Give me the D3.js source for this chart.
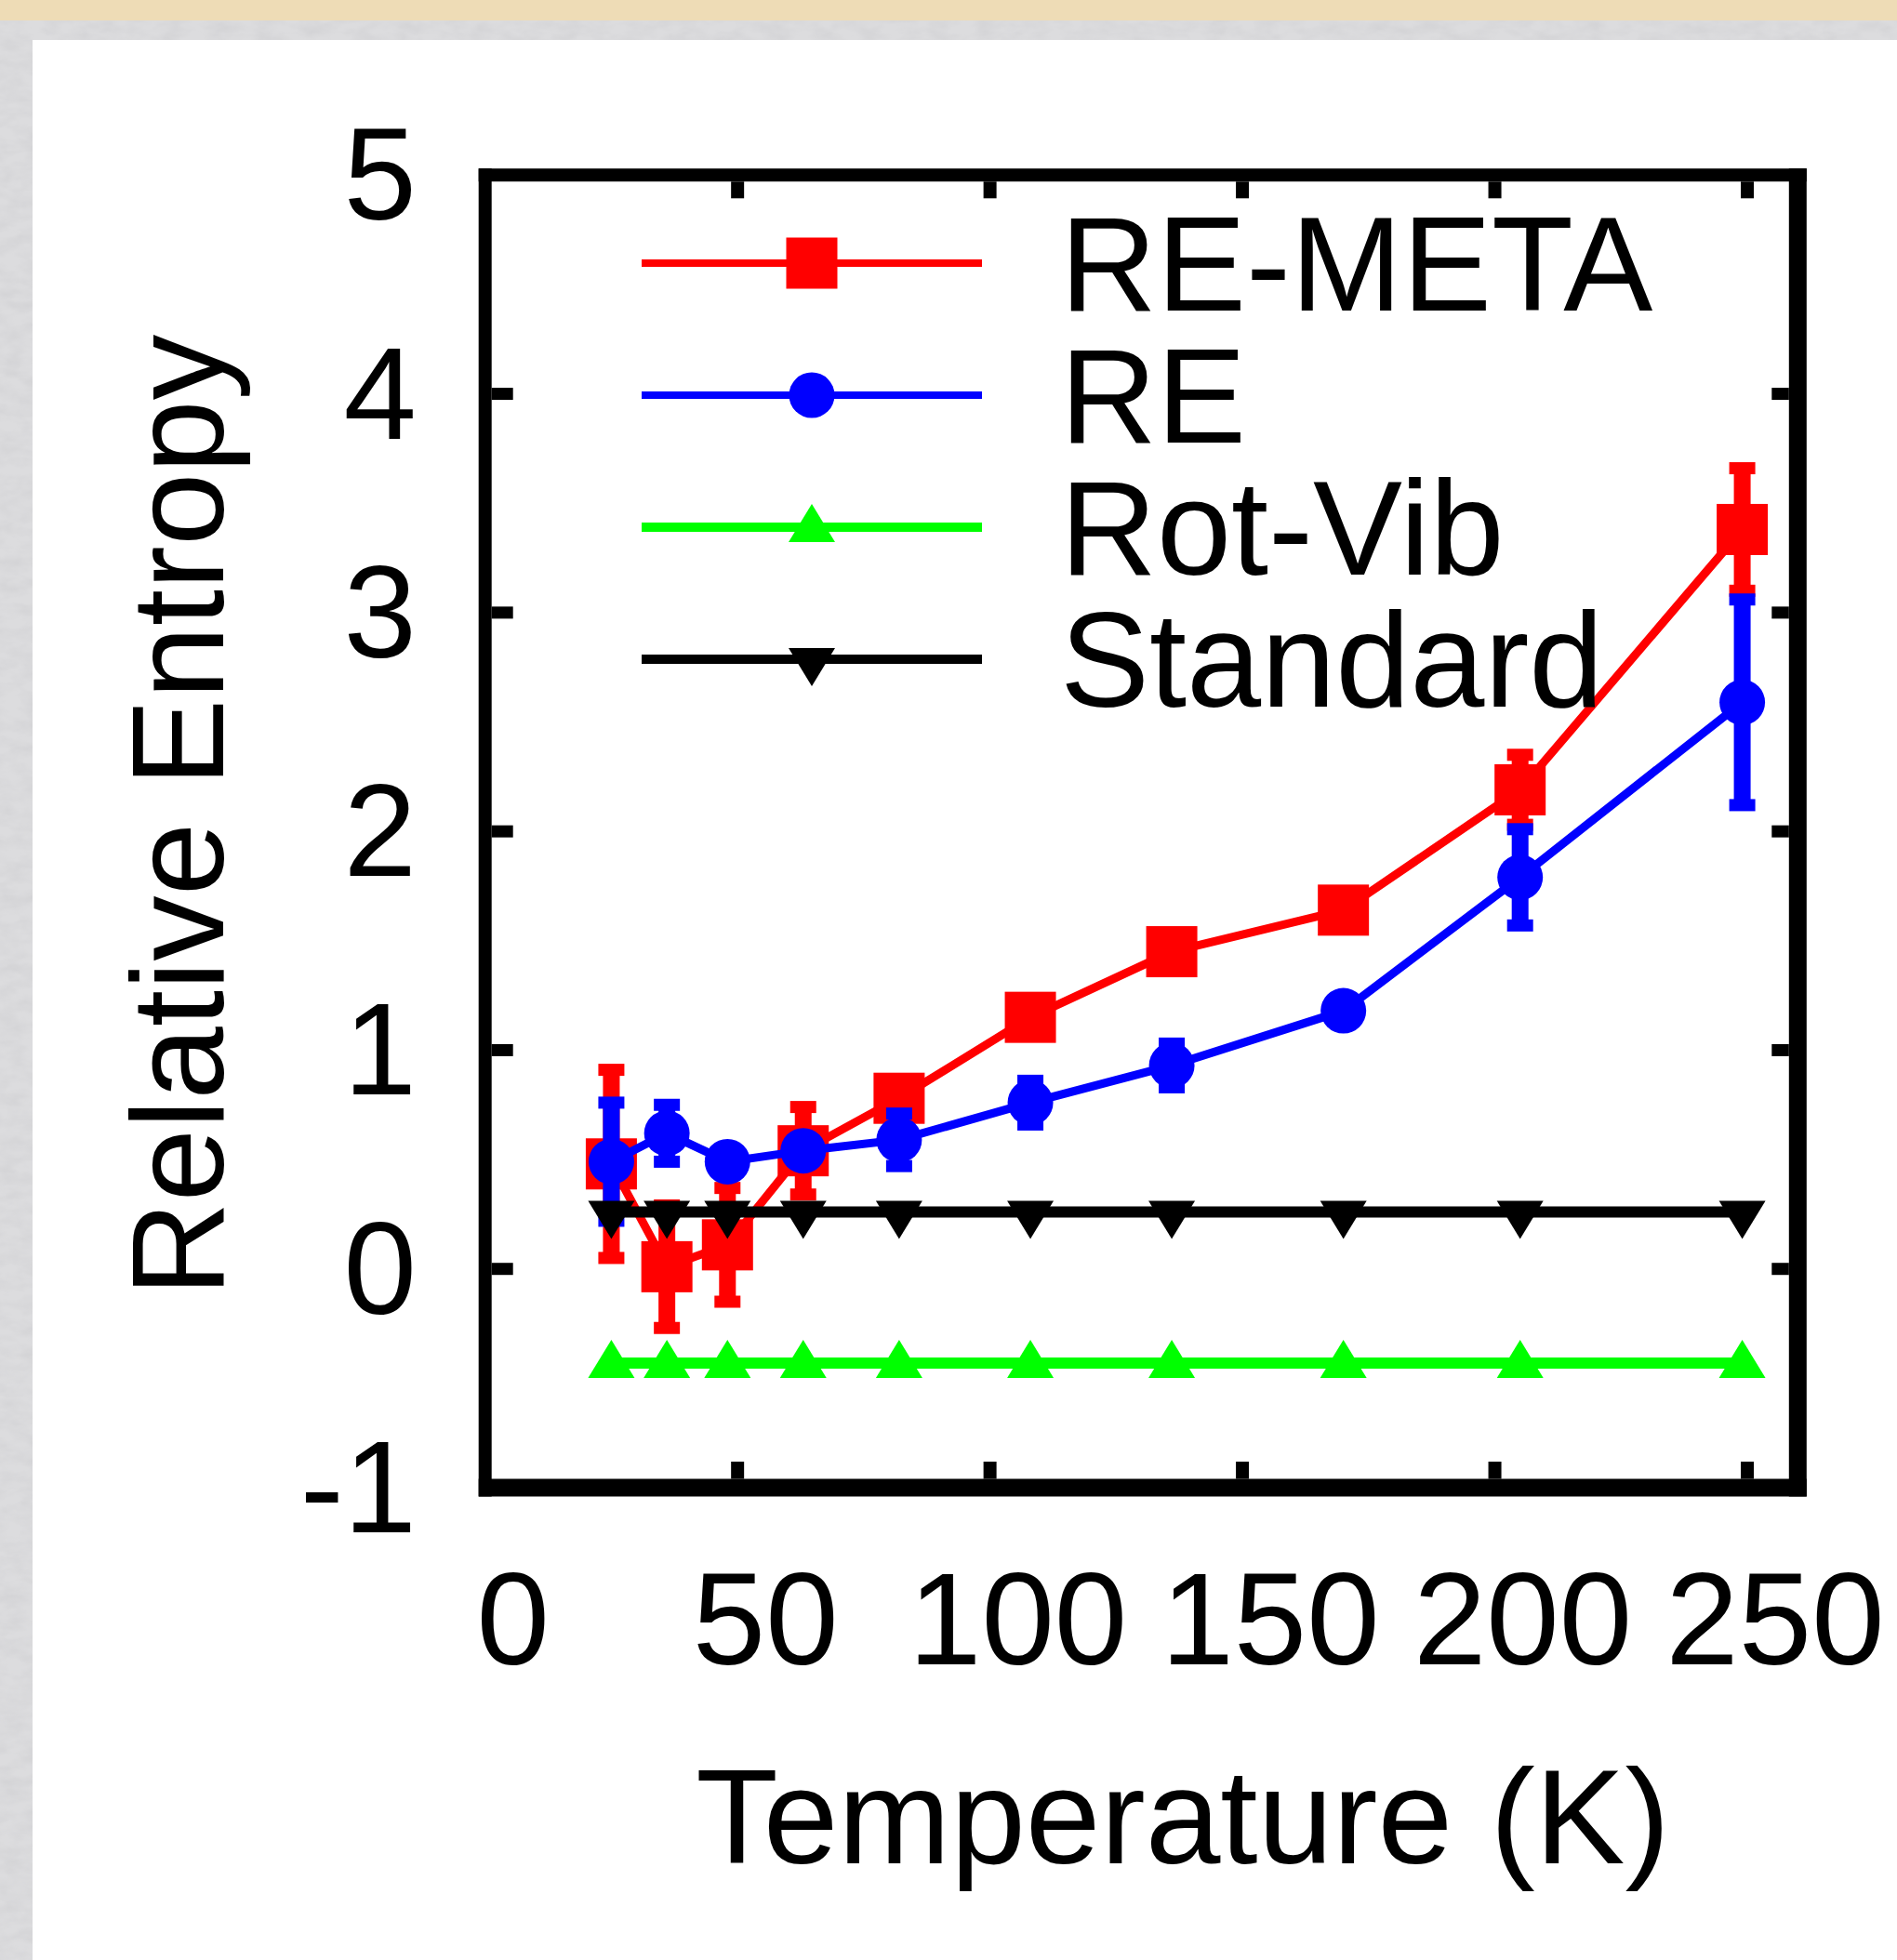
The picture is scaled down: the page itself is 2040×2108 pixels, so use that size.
<!DOCTYPE html>
<html>
<head>
<meta charset="utf-8">
<script src="https://cdn.jsdelivr.net/npm/d3@7"></script>
<style>
  html, body { margin: 0; padding: 0; background: #fff; }
  svg { display: block; }
  text { font-family: "Liberation Sans", Arial, sans-serif; fill: #000; }
</style>
</head>
<body>
<div id="chart"></div>
<script>
var temps = [25, 36, 48, 63, 82, 108, 136, 170, 205, 249];
var reMeta = [0.48, 0.01, 0.11, 0.54, 0.78, 1.15, 1.45, 1.64, 2.19, 3.38];
var reMetaErr = [0.43, 0.28, 0.26, 0.20, 0.06, 0.05, 0.05, 0.05, 0.16, 0.28];
var re = [0.49, 0.62, 0.49, 0.54, 0.59, 0.76, 0.93, 1.18, 1.79, 2.59];
var reErr = [0.27, 0.13, 0.05, 0.05, 0.12, 0.10, 0.10, 0.05, 0.22, 0.47];
var rotVib = [-0.43, -0.43, -0.43, -0.43, -0.43, -0.43, -0.43, -0.43, -0.43, -0.43];
var standard = [0.26, 0.26, 0.26, 0.26, 0.26, 0.26, 0.26, 0.26, 0.26, 0.26];
var xTicks = [0, 50, 100, 150, 200, 250];
var yTicks = [-1, 0, 1, 2, 3, 4, 5];
var seriesNames = ["RE-META", "RE", "Rot-Vib", "Standard"];

(function() {
  var width = 2040,
      height = 2108;

  var svg = d3.select("#chart")
    .append("svg")
    .attr("width", width)
    .attr("height", height);

  // page background: beige strip, grey strip, white panel
  var defs = svg.append("defs");
  var marble = defs.append("filter").attr("id", "marble");
  marble.append("feTurbulence").attr("type", "fractalNoise").attr("baseFrequency", "0.04 0.08").attr("numOctaves", 3).attr("seed", 4);
  marble.append("feColorMatrix").attr("type", "matrix")
    .attr("values", "0 0 0 0 0.6  0 0 0 0 0.6  0 0 0 0 0.62  0 0 0 0.9 -0.3");
  marble.append("feComposite").attr("in2", "SourceGraphic").attr("operator", "in");

  svg.append("rect").attr("x", 0).attr("y", 0).attr("width", width).attr("height", height).attr("fill", "#dcdcde");
  svg.append("rect").attr("x", 0).attr("y", 0).attr("width", width).attr("height", height).attr("fill", "#dcdcde").attr("filter", "url(#marble)");
  svg.append("rect").attr("x", 0).attr("y", 0).attr("width", width).attr("height", 22).attr("fill", "#eedcb6");
  svg.append("rect").attr("x", 35).attr("y", 43).attr("width", width - 35).attr("height", height - 43).attr("fill", "#fff");

  var x = d3.scaleLinear().domain([0, 260]).range([521.7, 1933.3]);
  var y = d3.scaleLinear().domain([-1, 5]).range([1600, 188.3]);

  var series = [
    { name: seriesNames[0], values: reMeta, err: reMetaErr, color: "#ff0000", lw: 9, marker: "square" },
    { name: seriesNames[1], values: re, err: reErr, color: "#0000ff", lw: 9, marker: "circle" },
    { name: seriesNames[2], values: rotVib, err: null, color: "#00ff00", lw: 12, marker: "up" },
    { name: seriesNames[3], values: standard, err: null, color: "#000000", lw: 12, marker: "down" }
  ];

  function drawMarker(g, type, cx, cy, color) {
    if (type === "square") {
      g.append("rect").attr("x", cx - 27.5).attr("y", cy - 27.5)
        .attr("width", 55).attr("height", 55).attr("fill", color);
    } else if (type === "circle") {
      g.append("circle").attr("cx", cx).attr("cy", cy).attr("r", 24.5).attr("fill", color);
    } else if (type === "up") {
      g.append("path").attr("d", "M" + (cx - 25) + "," + (cy + 16) + "L" + cx + "," + (cy - 25) + "L" + (cx + 25) + "," + (cy + 16) + "Z")
        .attr("fill", color);
    } else {
      g.append("path").attr("d", "M" + (cx - 25) + "," + (cy - 12) + "L" + cx + "," + (cy + 29) + "L" + (cx + 25) + "," + (cy - 12) + "Z")
        .attr("fill", color);
    }
  }

  var plot = svg.append("g");
  var line = d3.line().x(function(d) { return x(d[0]); }).y(function(d) { return y(d[1]); });

  series.forEach(function(s) {
    var pts = temps.map(function(t, i) { return [t, s.values[i], s.err ? s.err[i] : 0]; });
    var g = plot.append("g");
    g.append("path").attr("d", line(pts)).attr("fill", "none")
      .attr("stroke", s.color).attr("stroke-width", s.lw);
    if (s.err) {
      pts.forEach(function(p) {
        var top = y(p[1] + p[2]), bot = y(p[1] - p[2]);
        g.append("rect").attr("x", x(p[0]) - 9).attr("y", top).attr("width", 18).attr("height", bot - top).attr("fill", s.color);
        g.append("rect").attr("x", x(p[0]) - 14).attr("y", top - 6.5).attr("width", 28).attr("height", 13).attr("fill", s.color);
        g.append("rect").attr("x", x(p[0]) - 14).attr("y", bot - 6.5).attr("width", 28).attr("height", 13).attr("fill", s.color);
      });
    }
    pts.forEach(function(p) { drawMarker(g, s.marker, x(p[0]), y(p[1]), s.color); });
  });

  // frame
  var fx0 = x.range()[0], fx1 = x.range()[1], fy0 = y.range()[1], fy1 = y.range()[0];
  var frame = svg.append("g").attr("stroke", "#000");
  frame.append("line").attr("x1", fx0).attr("x2", fx0).attr("y1", fy0 - 7).attr("y2", fy1 + 9.5).attr("stroke-width", 14);
  frame.append("line").attr("x1", fx1).attr("x2", fx1).attr("y1", fy0 - 7).attr("y2", fy1 + 9.5).attr("stroke-width", 19);
  frame.append("line").attr("x1", fx0 - 7).attr("x2", fx1 + 9.5).attr("y1", fy0).attr("y2", fy0).attr("stroke-width", 14);
  frame.append("line").attr("x1", fx0 - 7).attr("x2", fx1 + 9.5).attr("y1", fy1).attr("y2", fy1).attr("stroke-width", 19);

  // inward ticks
  xTicks.slice(1).forEach(function(t) {
    frame.append("line").attr("x1", x(t)).attr("x2", x(t)).attr("y1", fy1 - 9.5).attr("y2", fy1 - 28).attr("stroke-width", 14);
    frame.append("line").attr("x1", x(t)).attr("x2", x(t)).attr("y1", fy0 + 7).attr("y2", fy0 + 25).attr("stroke-width", 14);
  });
  yTicks.slice(1, -1).forEach(function(t) {
    frame.append("line").attr("x1", fx0 + 7).attr("x2", fx0 + 30).attr("y1", y(t)).attr("y2", y(t)).attr("stroke-width", 13);
    frame.append("line").attr("x1", fx1 - 9.5).attr("x2", fx1 - 28).attr("y1", y(t)).attr("y2", y(t)).attr("stroke-width", 13);
  });

  // tick labels
  svg.selectAll(".xlabel").data(xTicks).enter().append("text")
    .attr("class", "xlabel")
    .attr("x", function(d) { return x(d) + 30; })
    .attr("y", 1790)
    .attr("text-anchor", "middle")
    .attr("font-size", 141)
    .text(function(d) { return d; });

  svg.selectAll(".ylabel").data(yTicks).enter().append("text")
    .attr("class", "ylabel")
    .attr("x", 448)
    .attr("y", function(d) { return y(d) + 48; })
    .attr("text-anchor", "end")
    .attr("font-size", 141)
    .text(function(d) { return d; });

  // axis titles
  svg.append("text")
    .attr("x", 1272).attr("y", 2004)
    .attr("text-anchor", "middle")
    .attr("font-size", 145)
    .text("Temperature (K)");

  svg.append("text")
    .attr("transform", "translate(240,877) rotate(-90)")
    .attr("text-anchor", "middle")
    .attr("font-size", 141)
    .text("Relative Entropy");

  // legend
  var legend = svg.append("g");
  series.forEach(function(s, i) {
    var ly = 283 + i * 142;
    legend.append("line").attr("x1", 690).attr("x2", 1056).attr("y1", ly).attr("y2", ly)
      .attr("stroke", s.color).attr("stroke-width", i < 2 ? 8 : 10);
    drawMarker(legend, s.marker, 873, ly, s.color);
    legend.append("text").attr("x", 1140).attr("y", ly + 51)
      .attr("font-size", 144).text(s.name);
  });
})();
</script>
</body>
</html>
